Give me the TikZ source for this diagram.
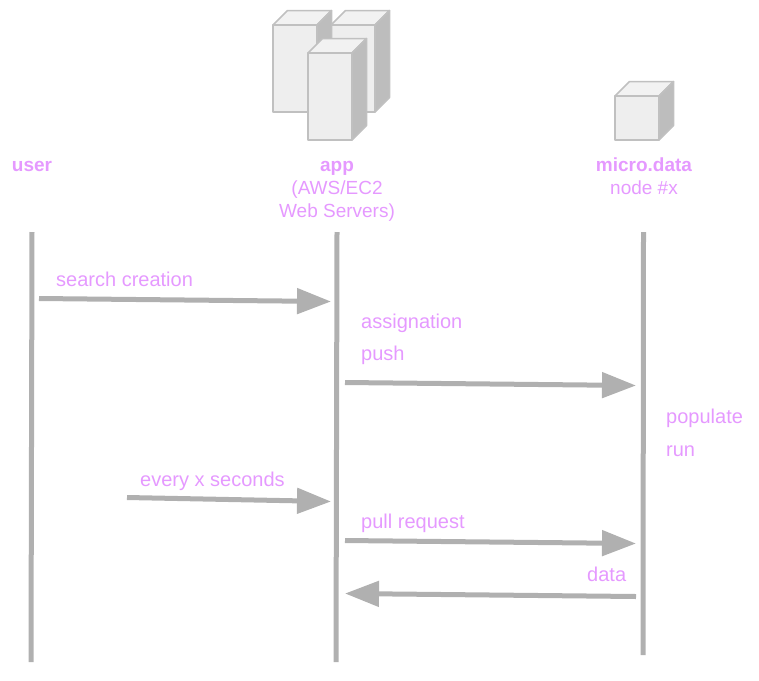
\documentclass[tikz,border=0pt]{standalone}
\usepackage{fontspec}
\setmainfont{Liberation Sans}
\usetikzlibrary{arrows.meta}
\definecolor{lbl}{HTML}{E599FF}
\definecolor{ln}{HTML}{B0B0B0}
\definecolor{fr}{HTML}{EEEEEE}
\definecolor{sd}{HTML}{BDBDBD}
\definecolor{tp}{HTML}{F2F2F2}
\definecolor{eg}{HTML}{C0C0C0}
\tikzset{
 lab/.style={text=lbl,font=\fontsize{20}{24}\selectfont,inner sep=0pt,anchor=base west},
 head/.style={text=lbl,font=\fontsize{19}{24}\selectfont,inner sep=0pt,anchor=base,align=center},
 life/.style={draw=ln,line width=5pt},
 msg/.style={draw=ln,line width=5pt,-{Triangle[length=34pt,width=25pt]},shorten >=0pt},
 boxf/.style={draw=eg,line width=1.5pt,line join=round}
}
\newcommand{\cuboid}[5]{% x0 y0 x1 y1 depth
 \fill[boxf,fill=tp] (#1,#2) -- ++(#5,-14.5) -- (#3+#5,#2-14.5) -- (#3,#2) -- cycle;
 \fill[boxf,fill=sd] (#3,#2) -- (#3+#5,#2-14.5) -- (#3+#5,#4-14.5) -- (#3,#4) -- cycle;
 \fill[boxf,fill=fr] (#1,#2) rectangle (#3,#4);
}
\begin{document}
\begin{tikzpicture}[x=1pt,y=-1pt]
\useasboundingbox (0,0) rectangle (759,680);
\cuboid{331}{25}{375}{112}{14.5}
\cuboid{273}{25}{317}{112}{14.5}
\cuboid{308}{53}{352}{140}{14.5}
\cuboid{615}{96}{659}{140}{14.5}
\node[head,font=\fontsize{19}{24}\selectfont\bfseries] (uh) at (32,171) {user};
\node[head,font=\fontsize{19}{24}\selectfont\bfseries] (ah) at (337,171) {app};
\node[head] (ah2) at (337,194) {(AWS/EC2};
\node[head] (ah3) at (337,217) {Web Servers)};
\node[head,font=\fontsize{19}{24}\selectfont\bfseries] (mh) at (644,171) {micro.data};
\node[head] (mh2) at (644,194) {node \#x};
\coordinate (u1) at (32,232); \coordinate (u2) at (31,662);
\coordinate (a1) at (337,232); \coordinate (a2) at (336,662);
\coordinate (m1) at (643.5,232); \coordinate (m2) at (643,655);
\draw[life] (u1) -- (u2);
\draw[life] (a1) -- (a2);
\draw[life] (m1) -- (m2);
\coordinate (s1) at (39,298.5); \coordinate (e1) at (331,301.5);
\coordinate (s2) at (345,382.5); \coordinate (e2) at (636,385.5);
\coordinate (s3) at (127,497.5); \coordinate (e3) at (331,501.5);
\coordinate (s4) at (345,540.5); \coordinate (e4) at (636,543.5);
\coordinate (s5) at (636,596.5); \coordinate (e5) at (345,593.5);
\draw[msg] (s1) -- (e1);
\draw[msg] (s2) -- (e2);
\draw[msg] (s3) -- (e3);
\draw[msg] (s4) -- (e4);
\draw[msg] (s5) -- (e5);
\node[lab] (t1) at (56,286) {search creation};
\node[lab] (t2) at (361,328) {assignation};
\node[lab] (t3) at (361,360) {push};
\node[lab] (t4) at (666,423) {populate};
\node[lab] (t5) at (666,456) {run};
\node[lab] (t6) at (140,486) {every x seconds};
\node[lab] (t7) at (361,528) {pull request};
\node[lab] (t8) at (587,581) {data};
\end{tikzpicture}
\end{document}
